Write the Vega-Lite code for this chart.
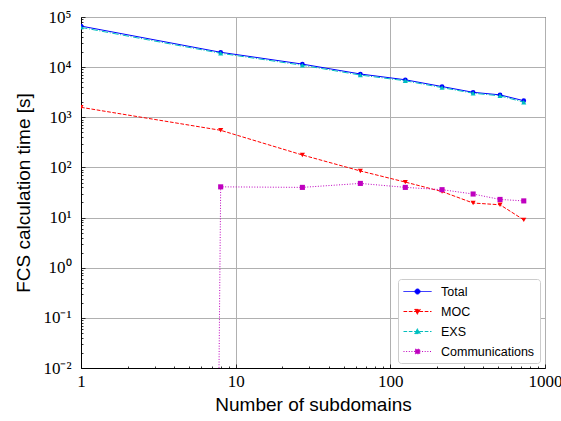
{
  "$schema": "https://vega.github.io/schema/vega-lite/v6.json",
  "width": 464,
  "height": 351,
  "autosize": {"type": "none"},
  "padding": {"left": 81, "top": 17, "right": 16, "bottom": 53},
  "background": "white",
  "config": {
    "view": {"stroke": "black", "strokeWidth": 1},
    "axis": {
      "domainColor": "black",
      "domainWidth": 1,
      "tickColor": "black",
      "tickWidth": 0.8,
      "gridColor": "#b0b0b0",
      "gridWidth": 1,
      "labelFont": "Liberation Serif",
      "labelFontSize": 17,
      "labelColor": "black",
      "titleFont": "Liberation Sans",
      "titleFontSize": 19,
      "titleFontWeight": "normal",
      "titleColor": "black"
    }
  },
  "data": {
    "values": [
      {"n": 1, "series": "Total", "time": 66000},
      {"n": 8, "series": "Total", "time": 19800},
      {"n": 27, "series": "Total", "time": 11500},
      {"n": 64, "series": "Total", "time": 7300},
      {"n": 125, "series": "Total", "time": 5600},
      {"n": 216, "series": "Total", "time": 4100},
      {"n": 343, "series": "Total", "time": 3150},
      {"n": 512, "series": "Total", "time": 2800},
      {"n": 729, "series": "Total", "time": 2140},
      {"n": 1, "series": "MOC", "time": 1580},
      {"n": 8, "series": "MOC", "time": 550},
      {"n": 27, "series": "MOC", "time": 177},
      {"n": 64, "series": "MOC", "time": 85},
      {"n": 125, "series": "MOC", "time": 51},
      {"n": 216, "series": "MOC", "time": 33},
      {"n": 343, "series": "MOC", "time": 19.5},
      {"n": 512, "series": "MOC", "time": 18},
      {"n": 729, "series": "MOC", "time": 9},
      {"n": 1, "series": "EXS", "time": 62000},
      {"n": 8, "series": "EXS", "time": 18900},
      {"n": 27, "series": "EXS", "time": 10900},
      {"n": 64, "series": "EXS", "time": 6950},
      {"n": 125, "series": "EXS", "time": 5350},
      {"n": 216, "series": "EXS", "time": 3900},
      {"n": 343, "series": "EXS", "time": 3020},
      {"n": 512, "series": "EXS", "time": 2680},
      {"n": 729, "series": "EXS", "time": 2000},
      {"n": 1, "series": "Communications", "time": 1e-300},
      {"n": 8, "series": "Communications", "time": 41},
      {"n": 27, "series": "Communications", "time": 40},
      {"n": 64, "series": "Communications", "time": 48},
      {"n": 125, "series": "Communications", "time": 40},
      {"n": 216, "series": "Communications", "time": 36},
      {"n": 343, "series": "Communications", "time": 29.5},
      {"n": 512, "series": "Communications", "time": 23},
      {"n": 729, "series": "Communications", "time": 21.5}
    ]
  },
  "encoding": {
    "x": {"field": "n", "type": "quantitative", "scale": {"type": "log", "domain": [1, 1000], "nice": false}, "axis": null},
    "y": {"field": "time", "type": "quantitative", "scale": {"type": "log", "domain": [0.01, 100000], "nice": false}, "axis": null},
    "color": {
      "field": "series",
      "type": "nominal",
      "scale": {
        "domain": ["Total", "MOC", "EXS", "Communications"],
        "range": ["#0000ff", "#ff0000", "#00bfbf", "#bf00bf"]
      },
      "legend": {
        "title": null,
        "orient": "none",
        "legendX": 317,
        "legendY": 262,
        "padding": 5,
        "rowPadding": 6,
        "symbolSize": 196,
        "symbolOffset": 7,
        "labelOffset": 16,
        "labelFont": "Liberation Sans",
        "labelFontSize": 12.5,
        "labelColor": "black",
        "strokeColor": "#cccccc",
        "fillColor": "white",
        "cornerRadius": 3,
        "symbolStrokeWidth": 1,
        "encode": {
          "symbols": {
            "update": {
              "shape": {"signal": "datum.value === 'Total' ? 'M-2,0H2M-0.36,0A0.36,0.36 0 1,0 0.36,0A0.36,0.36 0 1,0 -0.36,0Z' : datum.value === 'MOC' ? 'M-2,0H2M-0.4,-0.3L0.4,-0.3L0,0.4Z' : datum.value === 'EXS' ? 'M-2,0H2M-0.4,0.3L0.4,0.3L0,-0.4Z' : 'M-2,0H2M-0.33,-0.33H0.33V0.33H-0.33Z'"},
              "strokeDash": {"signal": "datum.value === 'MOC' ? [3.7,1.6] : datum.value === 'EXS' ? [3.7,1.6] : datum.value === 'Communications' ? [1,1.65] : [1,0]"},
              "fill": {"signal": "scale('color', datum.value)"},
              "stroke": {"signal": "scale('color', datum.value)"},
              "size": {"value": 196},
              "opacity": {"value": 1},
              "fillOpacity": {"value": 1},
              "strokeOpacity": {"value": 1}
            }
          }
        }
      }
    }
  },
  "layer": [
    {
      "transform": [{"filter": "datum.series === 'Total'"}],
      "mark": {"type": "line", "strokeWidth": 1, "clip": true},
      "encoding": {
        "x": {
          "field": "n",
          "type": "quantitative",
          "scale": {"type": "log", "domain": [1, 1000], "nice": false},
          "axis": {
            "orient": "bottom",
            "title": "Number of subdomains",
            "values": [1, 10, 100, 1000],
            "format": "d",
            "tickSize": -4,
            "labelPadding": 9,
            "titlePadding": 6,
            "grid": true,
            "labelFlush": false
          }
        },
        "y": {
          "field": "time",
          "type": "quantitative",
          "scale": {"type": "log", "domain": [0.01, 100000], "nice": false},
          "axis": {
            "orient": "left",
            "title": "FCS calculation time [s]",
            "values": [0.01, 0.1, 1, 10, 100, 1000, 10000, 100000],
            "labelExpr": "datum.value >= 99999 ? '10⁵' : datum.value >= 9999 ? '10⁴' : datum.value >= 999 ? '10³' : datum.value >= 99 ? '10²' : datum.value >= 9 ? '10¹' : datum.value >= 0.9 ? '10⁰' : datum.value >= 0.09 ? '10⁻¹' : '10⁻²'",
            "tickSize": -4,
            "labelPadding": 14,
            "titlePadding": 9,
            "grid": true,
            "labelFlush": false
          }
        }
      }
    },
    {
      "transform": [{"filter": "datum.series === 'Total'"}],
      "mark": {"type": "point", "shape": "circle", "filled": true, "size": 22, "opacity": 1, "clip": true}
    },
    {
      "transform": [{"filter": "datum.series === 'MOC'"}],
      "mark": {"type": "line", "strokeWidth": 1, "strokeDash": [3.7, 1.6], "clip": true}
    },
    {
      "transform": [{"filter": "datum.series === 'MOC'"}],
      "mark": {"type": "point", "shape": "triangle-down", "filled": true, "size": 26, "opacity": 1, "clip": true}
    },
    {
      "transform": [{"filter": "datum.series === 'EXS'"}],
      "mark": {"type": "line", "strokeWidth": 1, "strokeDash": [6.4, 1.6, 1, 1.6], "clip": true}
    },
    {
      "transform": [{"filter": "datum.series === 'EXS'"}],
      "mark": {"type": "point", "shape": "triangle-up", "filled": true, "size": 26, "opacity": 1, "clip": true}
    },
    {
      "transform": [{"filter": "datum.series === 'Communications'"}],
      "mark": {"type": "line", "strokeWidth": 1, "strokeDash": [1, 1.65], "clip": true}
    },
    {
      "transform": [{"filter": "datum.series === 'Communications'"}],
      "mark": {"type": "point", "shape": "square", "filled": true, "size": 26, "opacity": 1, "clip": true}
    },
    {
      "mark": {"type": "point", "opacity": 0, "clip": true},
      "encoding": {
        "x": {
          "field": "n",
          "type": "quantitative",
          "scale": {"type": "log", "domain": [1, 1000], "nice": false},
          "axis": {
            "orient": "bottom",
            "title": null,
            "labels": false,
            "grid": false,
            "domain": false,
            "tickSize": -2,
            "values": [2, 3, 4, 5, 6, 7, 8, 9, 20, 30, 40, 50, 60, 70, 80, 90, 200, 300, 400, 500, 600, 700, 800, 900]
          }
        },
        "y": {
          "field": "time",
          "type": "quantitative",
          "scale": {"type": "log", "domain": [0.01, 100000], "nice": false},
          "axis": {
            "orient": "left",
            "title": null,
            "labels": false,
            "grid": false,
            "domain": false,
            "tickSize": -2,
            "values": [0.02, 0.03, 0.04, 0.05, 0.06, 0.07, 0.08, 0.09, 0.2, 0.3, 0.4, 0.5, 0.6, 0.7, 0.8, 0.9, 2, 3, 4, 5, 6, 7, 8, 9, 20, 30, 40, 50, 60, 70, 80, 90, 200, 300, 400, 500, 600, 700, 800, 900, 2000, 3000, 4000, 5000, 6000, 7000, 8000, 9000, 20000, 30000, 40000, 50000, 60000, 70000, 80000, 90000]
          }
        },
        "color": {"value": "white"}
      }
    }
  ],
  "resolve": {"axis": {"x": "independent", "y": "independent"}}
}
